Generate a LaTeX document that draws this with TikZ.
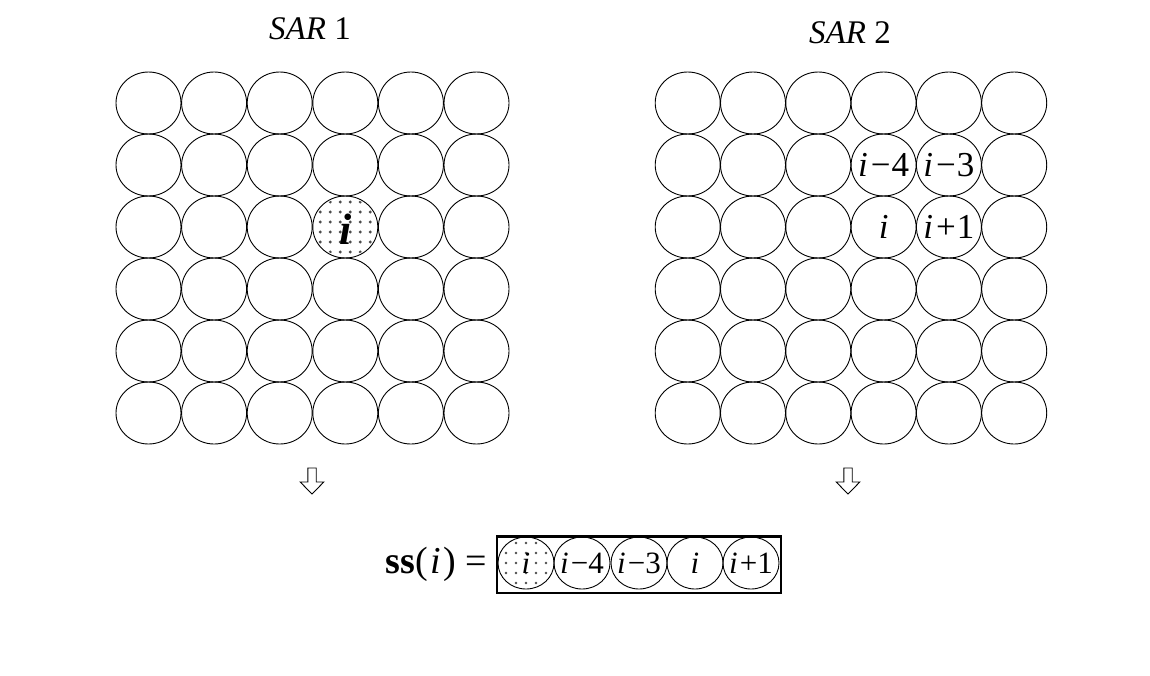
\documentclass[tikz,border=0pt]{standalone}
\usepackage{fontspec}
\setmainfont{Liberation Serif}
\usetikzlibrary{shapes.geometric}
\begin{document}
\begin{tikzpicture}[x=1pt,y=-1pt,
  cell/.style={ellipse, draw, line width=0.9pt, minimum width=65pt, minimum height=62pt, inner sep=0pt},
  smallcell/.style={ellipse, draw, line width=0.9pt, minimum width=56pt, minimum height=52pt, inner sep=0pt},
  gridlabel/.style={inner sep=0pt, font=\fontsize{35}{42}\selectfont},
  boxlabel/.style={inner sep=0pt, font=\fontsize{31}{37}\selectfont},
  titletext/.style={inner sep=0pt, anchor=base, font=\fontsize{33}{40}\selectfont},
  hollowarrow/.style={draw, line width=0.9pt, fill=white, line join=miter},
  dotfill/.style={fill=black!70},
  framebox/.style={draw, line width=2.6pt, inner sep=0pt, anchor=north west, minimum width=284pt, minimum height=56.5pt},
]
\useasboundingbox (0,0) rectangle (1150,675);

% titles
\node[titletext] (t1) at (310,39) {\textit{SAR} 1};
\node[titletext] (t2) at (850,43) {\textit{SAR} 2};

% grids
\foreach \r in {1,...,6} {
  \foreach \c in {1,...,6} {
    \pgfmathsetmacro\xa{148.5+65.6*(\c-1)}
    \pgfmathsetmacro\xb{687.7+65.3*(\c-1)}
    \pgfmathsetmacro\yy{103+62*(\r-1)}
    \node[cell] (a-\r-\c) at (\xa,\yy) {};
    \node[cell] (b-\r-\c) at (\xb,\yy) {};
  }
}

% dotted cell in SAR 1
\begin{scope}
  \clip (a-3-4.center) ellipse [x radius=31pt, y radius=29.5pt];
  \foreach \dx in {-25,-15,-5,5,15,25} {
    \foreach \dy in {-25,-15,-5,5,15,25} {
      \fill[dotfill, shift={(a-3-4.center)}] (\dx,\dy) circle (1.6pt);
    }
  }
\end{scope}
\node[inner sep=0pt, font=\fontsize{44}{50}\selectfont\bfseries\itshape] (la) at ([yshift=-2pt]a-3-4.center) {i};

% labels in SAR 2
\node[gridlabel] (lb1) at (b-2-4.center) {\textit{i}\kern3pt−\kern1pt4};
\node[gridlabel] (lb2) at (b-2-5.center) {\textit{i}\kern3pt−\kern1pt3};
\node[gridlabel] (lb3) at (b-3-4.center) {\textit{i}};
\node[gridlabel] (lb4) at (b-3-5.center) {\textit{i}\kern3pt+\kern1pt1};

% hollow arrows
\coordinate (arr1) at (312,468);
\coordinate (arr2) at (848,468);
\foreach \a in {arr1,arr2} {
  \draw[hollowarrow] (\a) ++(-4.2,0) -- ++(0,14) -- ++(-7.6,0) -- ++(11.8,12) -- ++(11.8,-12) -- ++(-7.6,0) -- ++(0,-14) -- cycle;
}

% bottom sequence
\node[framebox] (ssbox) at (495.7,535) {};
\node[smallcell] (s1) at (526,563) {};
\begin{scope}
  \clip (s1.center) ellipse [x radius=27pt, y radius=25pt];
  \foreach \dx in {-20,-10,0,10,20} {
    \foreach \dy in {-20,-10,0,10,20} {
      \fill[dotfill, shift={(s1.center)}] (\dx,\dy) circle (1.4pt);
    }
  }
\end{scope}
\node[boxlabel] (ls1) at (s1.center) {\textit{i}};
\node[smallcell] (s2) at (582,563) {};
\node[boxlabel] (ls2) at (s2.center) {\textit{i}\kern2pt−4};
\node[smallcell] (s3) at (639,563) {};
\node[boxlabel] (ls3) at (s3.center) {\textit{i}\kern2pt−3};
\node[smallcell] (s4) at (695,563) {};
\node[boxlabel] (ls4) at (s4.center) {\textit{i}};
\node[smallcell] (s5) at (751,563) {};
\node[boxlabel] (ls5) at (s5.center) {\textit{i}\kern2pt+1};

\node[inner sep=0pt, anchor=base east, font=\fontsize{38}{44}\selectfont] (sslabel) at (487,573)
  {\textbf{ss}(\kern2pt\textit{i}\kern3pt)\kern9pt=};
\end{tikzpicture}
\end{document}
